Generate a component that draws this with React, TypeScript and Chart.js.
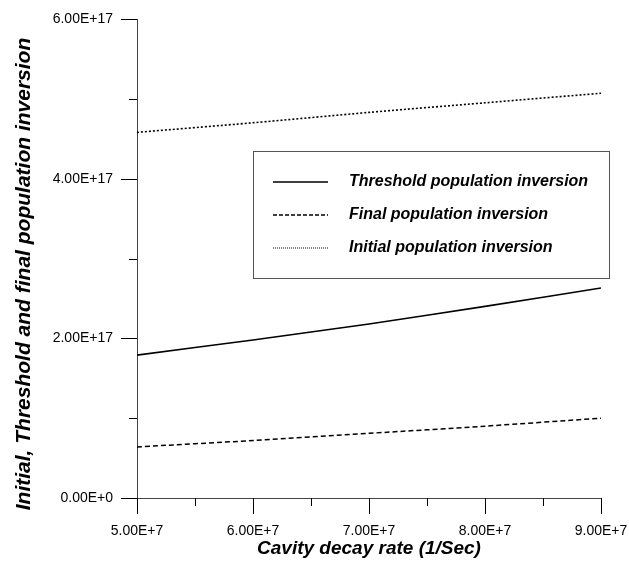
import React, { useEffect, useRef } from "react";
import { Chart, registerables } from "chart.js";

Chart.register(...registerables);

// ---- data ----
const decayRates = [5e7, 6e7, 7e7, 8e7, 9e7];
const thresholdInversion = [1.79e17, 1.98e17, 2.18e17, 2.4e17, 2.63e17];
const finalInversion = [0.64e17, 0.72e17, 0.81e17, 0.9e17, 1.0e17];
const initialInversion = [4.58e17, 4.7e17, 4.83e17, 4.95e17, 5.07e17];

const seriesLabels = [
  "Threshold population inversion",
  "Final population inversion",
  "Initial population inversion",
];

const xTickValues = [5e7, 6e7, 7e7, 8e7, 9e7];
const xTickLabels = ["5.00E+7", "6.00E+7", "7.00E+7", "8.00E+7", "9.00E+7"];
const yTickValues = [0, 2e17, 4e17, 6e17];
const yTickLabels = ["0.00E+0", "2.00E+17", "4.00E+17", "6.00E+17"];

const xTitle = "Cavity decay rate (1/Sec)";
const yTitle = "Initial, Threshold and final population inversion";

const FONT = "'Liberation Sans', Arial, Helvetica, sans-serif";

const decorPlugin = {
  id: "decor",
  afterDraw(chart: any) {
    const { ctx, chartArea, scales } = chart;
    const xs = scales.x;
    const ys = scales.y;
    ctx.save();
    // tick marks
    ctx.strokeStyle = "#000";
    ctx.lineWidth = 1;
    const major = 16;
    const minor = 8;
    const drawY = (v: number, len: number) => {
      const p = Math.round(ys.getPixelForValue(v)) + 0.5;
      ctx.beginPath();
      ctx.moveTo(chartArea.left - len, p);
      ctx.lineTo(chartArea.left, p);
      ctx.stroke();
    };
    const drawX = (v: number, len: number) => {
      const p = Math.round(xs.getPixelForValue(v)) + 0.5;
      ctx.beginPath();
      ctx.moveTo(p, chartArea.bottom);
      ctx.lineTo(p, chartArea.bottom + len);
      ctx.stroke();
    };
    yTickValues.forEach((v, i) => {
      drawY(v, major);
      if (i < yTickValues.length - 1) drawY((v + yTickValues[i + 1]) / 2, minor);
    });
    xTickValues.forEach((v, i) => {
      drawX(v, major);
      if (i < xTickValues.length - 1) drawX((v + xTickValues[i + 1]) / 2, minor);
    });

    // axis titles
    ctx.fillStyle = "#000";
    ctx.font = `italic bold 19px ${FONT}`;
    ctx.textAlign = "center";
    ctx.textBaseline = "middle";
    ctx.fillText(xTitle, (chartArea.left + chartArea.right) / 2, 549);
    ctx.save();
    ctx.translate(24, 274);
    ctx.rotate(-Math.PI / 2);
    ctx.font = `italic bold 21px ${FONT}`;
    ctx.fillText(yTitle, 0, 0);
    ctx.restore();

    // legend box
    const bx = 253.5, by = 151.5, bw = 356, bh = 127;
    ctx.strokeStyle = "#555";
    ctx.lineWidth = 1;
    ctx.strokeRect(bx, by, bw, bh);
    const rows = [182, 215, 248];
    ctx.font = `italic bold 16px ${FONT}`;
    ctx.textAlign = "left";
    chart.data.datasets.forEach((ds: any, i: number) => {
      const y = rows[i];
      ctx.save();
      ctx.strokeStyle = "#000";
      ctx.lineWidth = ds.legendLineWidth;
      ctx.setLineDash(ds.legendDash);
      ctx.beginPath();
      ctx.moveTo(273, y);
      ctx.lineTo(328, y);
      ctx.stroke();
      ctx.restore();
      ctx.fillText(ds.label, 349, y);
    });
    ctx.restore();
  },
};

export default function App() {
  const ref = useRef<HTMLCanvasElement | null>(null);
  useEffect(() => {
    if (!ref.current) return;
    const mk = (vals: number[]) => decayRates.map((x, i) => ({ x, y: vals[i] }));
    const chart = new Chart(ref.current, {
      type: "line",
      data: {
        datasets: [
          {
            label: seriesLabels[0],
            data: mk(thresholdInversion),
            borderColor: "#000",
            borderWidth: 1.6,
            borderDash: [],
            pointRadius: 0,
            tension: 0.3,
            legendDash: [],
            legendLineWidth: 1.6,
          } as any,
          {
            label: seriesLabels[1],
            data: mk(finalInversion),
            borderColor: "#000",
            borderWidth: 1.5,
            borderDash: [5, 3],
            pointRadius: 0,
            tension: 0.3,
            legendDash: [4, 2],
            legendLineWidth: 1.3,
          } as any,
          {
            label: seriesLabels[2],
            data: mk(initialInversion),
            borderColor: "#000",
            borderWidth: 1.6,
            borderDash: [2, 2],
            pointRadius: 0,
            tension: 0.3,
            legendDash: [1, 1],
            legendLineWidth: 1,
          } as any,
        ],
      },
      options: {
        responsive: false,
        animation: false,
        layout: { padding: { left: 0, top: 19, right: 28, bottom: 0 } },
        plugins: { legend: { display: false }, tooltip: { enabled: false } },
        scales: {
          x: {
            type: "linear",
            min: 5e7,
            max: 9e7,
            afterFit: (s: any) => {
              s.height = 63;
              s.paddingLeft = 0;
              s.paddingRight = 0;
              s.paddingTop = 0;
              s.paddingBottom = 0;
            },
            afterBuildTicks: (s: any) => {
              s.ticks = xTickValues.map((v) => ({ value: v }));
            },
            grid: { display: false, drawTicks: false },
            border: { display: true, color: "#444", width: 1 },
            ticks: {
              padding: 25,
              maxRotation: 0,
              autoSkip: false,
              color: "#000",
              font: { family: FONT, size: 14 },
              callback: (_v: any, i: number) => xTickLabels[i],
            },
          },
          y: {
            type: "linear",
            min: 0,
            max: 6e17,
            afterFit: (s: any) => {
              s.width = 137;
              s.paddingLeft = 0;
              s.paddingRight = 0;
              s.paddingTop = 0;
              s.paddingBottom = 0;
            },
            afterBuildTicks: (s: any) => {
              s.ticks = yTickValues.map((v) => ({ value: v }));
            },
            grid: { display: false, drawTicks: false },
            border: { display: true, color: "#444", width: 1 },
            ticks: {
              padding: 24,
              autoSkip: false,
              color: "#000",
              font: { family: FONT, size: 14 },
              callback: (_v: any, i: number) => yTickLabels[i],
            },
          },
        },
      },
      plugins: [decorPlugin],
    });
    return () => chart.destroy();
  }, []);
  return (
    <div style={{ position: "absolute", left: 0, top: 0, width: 629, height: 561, background: "#fff" }}>
      <canvas ref={ref} width={629} height={561} />
    </div>
  );
}
